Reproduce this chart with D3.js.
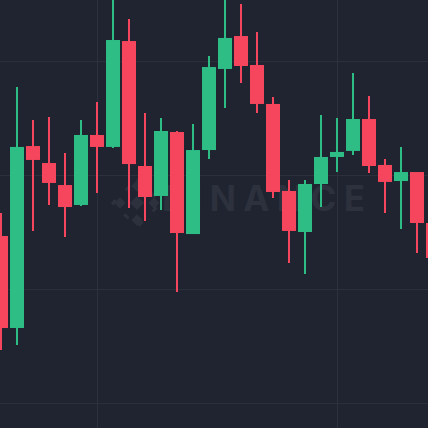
<!DOCTYPE html>
<html>
<head>
<meta charset="utf-8">
<script src="https://cdn.jsdelivr.net/npm/d3@7/dist/d3.min.js"></script>
<style>
  html, body { margin: 0; padding: 0; background: #1f2430; }
  svg { display: block; }
</style>
</head>
<body>
<script>
// ---- data ----
const times = ["09:00","09:15","09:30","09:45","10:00","10:15","10:30","10:45","11:00","11:15",
               "11:30","11:45","12:00","12:15","12:30","12:45","13:00","13:15","13:30","13:45",
               "14:00","14:15","14:30","14:45","15:00","15:15","15:30","15:45"];
const opens  = [246.5,165.8,325.4,310.5,291.2,273.7,335.1,324.6,417.5,307.9,
                281.6,337.7,248.2,321.9,393.0,421.9,396.5,362.3,286.0,250.0,
                292.1,315.8,321.1,349.1,308.8,294.7,302.6,257.9];
const highs  = [266.7,377.2,348.2,350.9,319.3,348.2,364.0,470.0,436.8,354.4,
                350.0,338.6,344.7,404.4,470.0,450.0,425.4,368.4,295.6,295.6,
                352.6,350.0,389.5,369.3,314.0,324.6,302.6,257.9];
const lows   = [146.5,150.9,250.9,273.7,245.6,272.8,284.2,323.7,271.1,259.6,
                269.3,197.4,248.2,314.0,358.8,380.7,354.4,279.8,222.8,213.2,
                271.9,302.6,317.5,301.8,266.7,252.6,231.6,220.2];
const closes = [165.8,324.6,313.2,293.0,271.9,335.1,324.6,418.4,309.6,280.7,
                338.6,249.1,321.9,394.7,420.2,395.6,362.3,285.1,250.9,292.1,
                315.8,320.2,349.1,307.9,293.9,302.6,257.9,227.2];
const priceTicks = [100, 200, 300, 400];
const timeTicks = ["10:30", "14:15"];
const watermark = "BINANCE";

// ---- chart ----
const W = 428, H = 428;
const svg = d3.select("body").append("svg").attr("width", W).attr("height", H);
svg.append("rect").attr("width", W).attr("height", H).attr("fill", "#1f2430");

const x = d3.scalePoint().domain(times).range([1, 433]);
const y = d3.scaleLinear().domain([78.07, 453.5]).range([H, 0]);

const gridColor = "#2c313c";
svg.append("g")
  .call(d3.axisLeft(y).tickValues(priceTicks).tickSize(-W).tickFormat(""))
  .call(g => g.select(".domain").remove())
  .call(g => g.selectAll("line").attr("stroke", gridColor).attr("stroke-width", 1));
svg.append("g")
  .attr("transform", `translate(0,${H})`)
  .call(d3.axisBottom(x).tickValues(timeTicks).tickSize(-H).tickFormat(""))
  .call(g => g.select(".domain").remove())
  .call(g => g.selectAll("line").attr("stroke", gridColor).attr("stroke-width", 1));

// watermark
const wm = svg.append("g").attr("fill", "#2c313d");
const lg = wm.append("g").attr("transform", "translate(137,203) rotate(45)");
lg.append("rect").attr("x", -5).attr("y", -5).attr("width", 10).attr("height", 10);
[[-12,-12],[12,-12],[-12,12],[12,12]].forEach(([dx,dy]) => {
  lg.append("rect").attr("x", dx - 4).attr("y", dy - 4).attr("width", 8).attr("height", 8);
});
lg.append("rect").attr("x", -17).attr("y", -17).attr("width", 34).attr("height", 34)
  .attr("fill", "none").attr("stroke", "#2c313d").attr("stroke-width", 3).attr("stroke-dasharray", "6 14");
wm.append("text")
  .attr("x", 162).attr("y", 211)
  .attr("font-family", "Inter, 'DejaVu Sans', sans-serif")
  .attr("font-weight", 700)
  .attr("font-size", 35)
  .attr("textLength", 203)
  .attr("lengthAdjust", "spacing")
  .text(watermark);

// candles
const up = "#2ebd85", down = "#f6465d";
const data = times.map((t, i) => ({t, o: opens[i], h: highs[i], l: lows[i], c: closes[i]}));
const bw = 14;
const g = svg.append("g");
const cg = g.selectAll("g.candle").data(data).enter().append("g").attr("class", "candle");
cg.append("line")
  .attr("x1", d => x(d.t)).attr("x2", d => x(d.t))
  .attr("y1", d => y(d.h)).attr("y2", d => y(d.l))
  .attr("stroke", d => d.c >= d.o ? up : down)
  .attr("stroke-width", 2);
cg.append("rect")
  .attr("x", d => x(d.t) - bw / 2)
  .attr("y", d => y(Math.max(d.o, d.c)))
  .attr("width", bw)
  .attr("height", d => Math.max(1, Math.abs(y(d.o) - y(d.c))))
  .attr("fill", d => d.c >= d.o ? up : down);
</script>
</body>
</html>
